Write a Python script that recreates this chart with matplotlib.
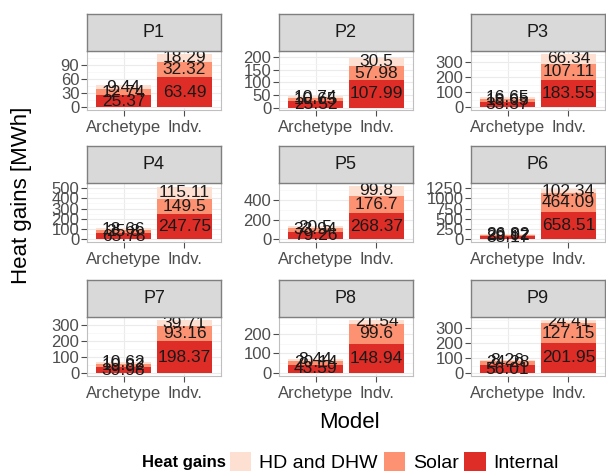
import matplotlib
matplotlib.use("Agg")
from matplotlib import pyplot as plt
from matplotlib.patches import Patch
import numpy as np

plt.rcParams['font.family'] = ['Liberation Sans', 'DejaVu Sans']

panels = ["P1", "P2", "P3", "P4", "P5", "P6", "P7", "P8", "P9"]
models = ["Archetype", "Indv."]

# values per panel: [Archetype, Indv.]
internal = [[25.37, 63.49], [25.52, 107.99], [35.37, 183.55],
            [65.78, 247.75], [79.26, 268.37], [88.17, 658.51],
            [39.98, 198.37], [43.59, 148.94], [56.01, 201.95]]
solar = [[12.74, 32.32], [10.65, 57.98], [18.65, 107.11],
         [25.8, 149.5], [33.94, 176.7], [29.92, 464.09],
         [19.82, 93.16], [20.14, 99.6], [24.28, 127.15]]
hd_dhw = [[9.44, 18.29], [10.74, 30.5], [16.65, 66.34],
          [18.66, 115.11], [20.5, 99.8], [26.82, 102.34],
          [10.62, 39.71], [8.44, 21.54], [8.26, 24.41]]

yticks = [[0, 30, 60, 90], [0, 50, 100, 150, 200], [0, 100, 200, 300],
          [0, 100, 200, 300, 400, 500], [0, 200, 400], [0, 250, 500, 750, 1000, 1250],
          [0, 100, 200, 300], [0, 100, 200], [0, 100, 200, 300]]

colors = {"Internal": "#DE2D26", "Solar": "#FC9272", "HD and DHW": "#FEE0D2"}

W, H = 606, 475
fig = plt.figure(figsize=(W / 100, H / 100), dpi=100)

col_x = [87, 279, 471]
row_top = [14, 146, 280]
pw, strip_h, ph = 134, 37, 59

for i, p in enumerate(panels):
    r, c = divmod(i, 3)
    x0 = col_x[c]
    top = row_top[r]
    ax = fig.add_axes([x0 / W, 1 - (top + strip_h + ph) / H, pw / W, ph / H])
    sax = fig.add_axes([x0 / W, 1 - (top + strip_h) / H, pw / W, strip_h / H])
    sax.set_facecolor("#D9D9D9")
    sax.set_xticks([])
    sax.set_yticks([])
    for s in sax.spines.values():
        s.set_color("#7F7F7F")
        s.set_linewidth(1.0)
    sax.text(0.5, 0.5, p, ha="center", va="center", fontsize=13, color="#1A1A1A")

    xs = np.arange(1, len(models) + 1)
    bottom = np.zeros(len(models))
    for name, vals in [("Internal", internal[i]), ("Solar", solar[i]), ("HD and DHW", hd_dhw[i])]:
        v = np.array(vals)
        ax.bar(xs, v, width=0.9, bottom=bottom, color=colors[name], zorder=2)
        for xx, b, val in zip(xs, bottom, v):
            ax.text(xx, b + val / 2, f"{val:g}", ha="center", va="center",
                    fontsize=12.5, color="#1A1A1A", zorder=3)
        bottom = bottom + v

    total = bottom.max()
    ax.set_ylim(-0.05 * total, 1.05 * total)
    ax.set_xlim(0.4, 2.6)
    ax.set_xticks(xs)
    ax.set_xticklabels(models)
    ax.set_yticks(yticks[i])
    t = yticks[i]
    step = t[1] - t[0]
    ax.set_yticks([v + step / 2 for v in t], minor=True)
    ax.grid(True, which="major", color="#EBEBEB", linewidth=0.8, zorder=0)
    ax.grid(True, which="minor", axis="y", color="#F5F5F5", linewidth=0.5, zorder=0)
    ax.set_axisbelow(True)
    ax.tick_params(axis="both", which="major", labelsize=12, colors="#4D4D4D",
                   length=4, width=0.8, pad=1.5)
    ax.tick_params(axis="both", which="minor", length=0)
    ax.tick_params(axis="x", labelcolor="#4D4D4D", pad=3)
    for s in ax.spines.values():
        s.set_color("#BFBFBF")
        s.set_linewidth(0.8)

fig.text(22 / W, 1 - 195 / H, "Heat gains [MWh]", rotation=90, ha="center",
         va="center", fontsize=16)
fig.text(349 / W, 1 - 422 / H, "Model", ha="center", va="center", fontsize=16)

fig.text(226 / W, 1 - 462 / H, "Heat gains", ha="right", va="center",
         fontsize=12, fontweight="bold")
handles = [Patch(facecolor=colors[k]) for k in ["HD and DHW", "Solar", "Internal"]]
fig.legend(handles, ["HD and DHW", "Solar", "Internal"], ncol=3, frameon=False,
           loc="center left", bbox_to_anchor=(230 / W, 1 - 462 / H),
           fontsize=14, handlelength=1.1, handleheight=1.1,
           handletextpad=0.4, columnspacing=0.3, borderpad=0, borderaxespad=0)

fig.savefig("out.png", dpi=100)
